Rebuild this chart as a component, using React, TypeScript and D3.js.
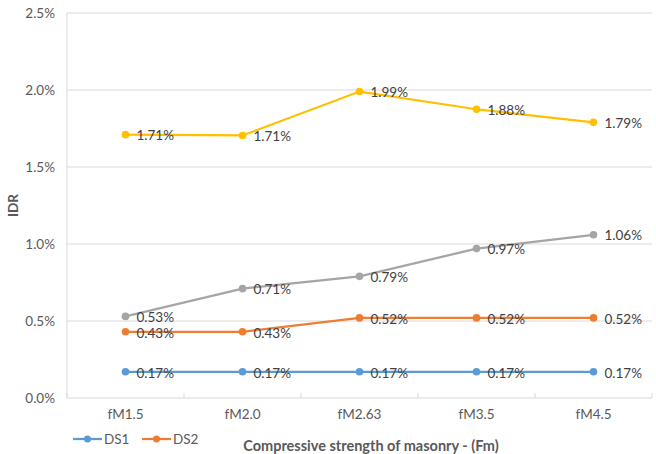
import React from "react";
import * as d3 from "d3";

const categories = ["fM1.5", "fM2.0", "fM2.63", "fM3.5", "fM4.5"];
const ds1 = [0.17, 0.17, 0.17, 0.17, 0.17];
const ds2 = [0.43, 0.43, 0.52, 0.52, 0.52];
const ds3 = [0.53, 0.71, 0.79, 0.97, 1.06];
const ds4 = [1.71, 1.705, 1.99, 1.875, 1.79];
const ds4Labels = ["1.71%", "1.71%", "1.99%", "1.88%", "1.79%"];
const yTicks = [0, 0.5, 1.0, 1.5, 2.0, 2.5];
const seriesNames = ["DS1", "DS2", "DS3", "DS4"];

const W = 656, H = 454;
const left = 67, right = 652, top = 13, bottom = 398;
const FONT = "Lato, 'Open Sans', sans-serif";

export default function App() {
  const x = d3.scaleBand<string>().domain(categories).range([left, right]);
  const y = d3.scaleLinear().domain([0, 2.5]).range([bottom, top]);
  const line = d3.line<number>().x((_, i) => x(categories[i])! + x.bandwidth() / 2).y((v) => y(v));
  const series = [
    { name: seriesNames[0], values: ds1, labels: ds1.map((v) => v.toFixed(2) + "%"), color: "#5B9BD5" },
    { name: seriesNames[1], values: ds2, labels: ds2.map((v) => v.toFixed(2) + "%"), color: "#ED7D31" },
    { name: seriesNames[2], values: ds3, labels: ds3.map((v) => v.toFixed(2) + "%"), color: "#A5A5A5" },
    { name: seriesNames[3], values: ds4, labels: ds4Labels, color: "#FFC000" },
  ];
  const boundaries = categories.map((c) => x(c)!).concat([right]);
  return (
    <svg width={W} height={H} style={{ position: "absolute", left: 0, top: 0, background: "#fff" }}>
      {yTicks.map((t) => (
        <g key={t}>
          {t > 0 && <line x1={left} x2={right} y1={y(t)} y2={y(t)} stroke="#D9D9D9" strokeWidth={1} />}
          <text x={55} y={y(t)} dy="0.35em" textAnchor="end" fontFamily={FONT} fontSize={13.5} fill="#595959">
            {t.toFixed(1) + "%"}
          </text>
        </g>
      ))}
      <line x1={left} x2={left} y1={top} y2={bottom} stroke="#D9D9D9" strokeWidth={1} />
      <line x1={left} x2={right} y1={bottom} y2={bottom} stroke="#D9D9D9" strokeWidth={1} />
      {boundaries.map((b, i) => (
        <line key={i} x1={b} x2={b} y1={bottom} y2={bottom - 5} stroke="#D9D9D9" strokeWidth={1} />
      ))}
      {categories.map((c) => (
        <text key={c} x={x(c)! + x.bandwidth() / 2} y={414} dy="0.35em" textAnchor="middle" fontFamily={FONT} fontSize={13.5} fill="#595959">
          {c}
        </text>
      ))}
      {series.map((s) => (
        <g key={s.name}>
          <path d={line(s.values)!} fill="none" stroke={s.color} strokeWidth={2.25} />
          {s.values.map((v, i) => (
            <circle key={i} cx={x(categories[i])! + x.bandwidth() / 2} cy={y(v)} r={3.8} fill={s.color} />
          ))}
        </g>
      ))}
      {series.map((s) => (
        <g key={s.name + "l"}>
          {s.values.map((v, i) => (
            <text key={i} x={x(categories[i])! + x.bandwidth() / 2 + 11} y={y(v) + 1} dy="0.35em" fontFamily={FONT} fontSize={13.5} fill="#404040">
              {s.labels[i]}
            </text>
          ))}
        </g>
      ))}
      <text transform={`translate(18,${(top + bottom) / 2}) rotate(-90)`} textAnchor="middle" fontFamily={FONT} fontSize={13.5} fontWeight="bold" fill="#595959">
        IDR
      </text>
      <text x={371} y={446} dy="0.35em" textAnchor="middle" fontFamily={FONT} fontSize={14.5} fontWeight="bold" fill="#595959">
        Compressive strength of masonry - (Fm)
      </text>
      {series.slice(0, 2).map((s, i) => {
        const lx = 73 + i * 69;
        return (
          <g key={s.name + "leg"}>
            <line x1={lx} x2={lx + 29} y1={439} y2={439} stroke={s.color} strokeWidth={2.25} />
            <circle cx={lx + 14.5} cy={439} r={3.5} fill={s.color} />
            <text x={lx + 31} y={439} dy="0.35em" fontFamily={FONT} fontSize={13.5} fill="#595959">
              {s.name}
            </text>
          </g>
        );
      })}
    </svg>
  );
}
